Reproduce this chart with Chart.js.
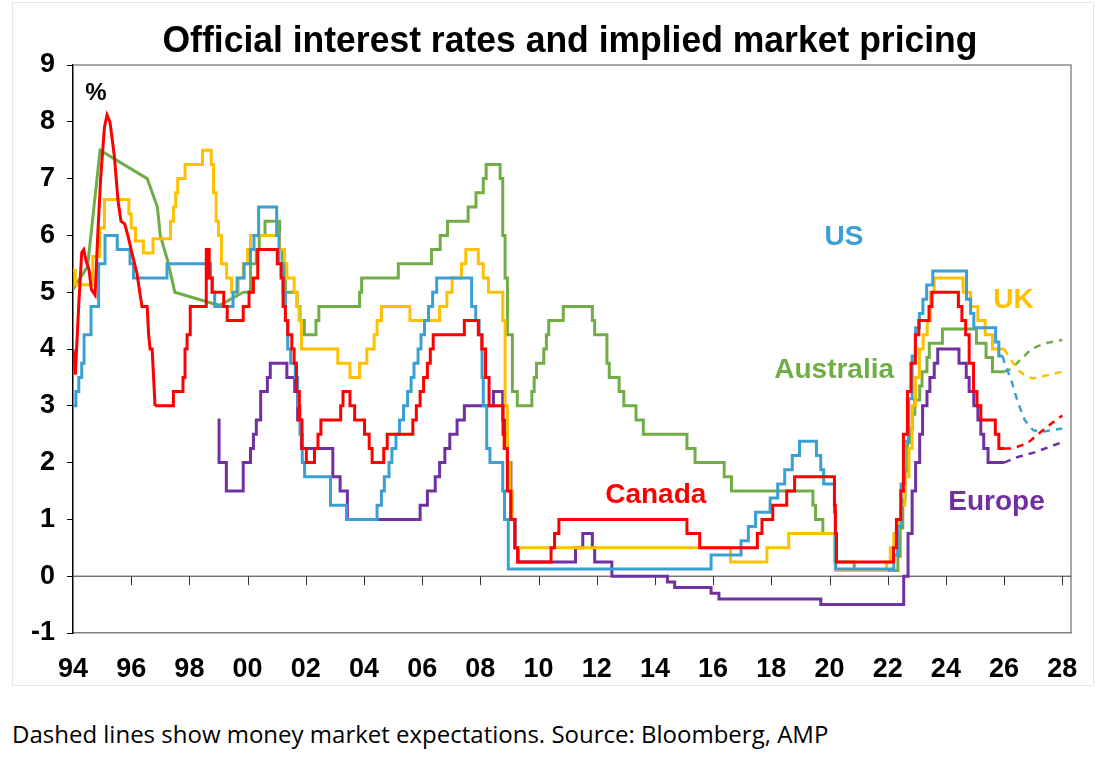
<!DOCTYPE html>
<html>
<head>
<meta charset="utf-8">
<script src="https://cdn.jsdelivr.net/npm/chart.js@4.4.0/dist/chart.umd.min.js"></script>
<style>
html, body { margin: 0; padding: 0; background: #fff; }
#frame { position: absolute; left: 12px; top: 2px; width: 1082px; height: 684px; border: 1px solid #e6e6e6; box-sizing: border-box; }
#wrap { position: absolute; left: 0; top: 0; width: 1107px; height: 690px; }
#note { position: absolute; left: 12px; top: 720px; font-family: 'Open Sans', 'Noto Sans', sans-serif; font-size: 24px; line-height: 1.2; color: #000; white-space: nowrap; }
</style>
</head>
<body>
<div id="frame"></div>
<div id="wrap"><canvas id="chart" width="1107" height="690"></canvas></div>
<div id="note">Dashed lines show money market expectations. Source: Bloomberg, AMP</div>
<script>
// official rates, [decimal year, % rate] at each change (held until next point)
var usRate = [[1994.0,3.0],[1994.1,3.25],[1994.2,3.5],[1994.3,3.75],[1994.38,4.25],[1994.62,4.75],[1994.88,5.5],[1995.1,6.0],
  [1995.52,5.75],[1995.96,5.5],[1996.08,5.25],[1997.23,5.5],[1998.73,5.25],[1998.79,5.0],[1998.87,4.75],[1999.5,5.0],
  [1999.64,5.25],[1999.88,5.5],[2000.1,5.75],[2000.22,6.0],[2000.38,6.5],[2001.0,6.0],[2001.08,5.5],[2001.22,5.0],
  [2001.3,4.5],[2001.38,4.0],[2001.48,3.75],[2001.64,3.5],[2001.72,3.0],[2001.8,2.5],[2001.88,2.0],[2001.96,1.75],
  [2002.85,1.25],[2003.4,1.0],[2004.45,1.25],[2004.6,1.5],[2004.7,1.75],[2004.86,2.0],[2004.96,2.25],[2005.1,2.5],
  [2005.22,2.75],[2005.36,3.0],[2005.5,3.25],[2005.62,3.5],[2005.72,3.75],[2005.86,4.0],[2005.96,4.25],[2006.08,4.5],
  [2006.22,4.75],[2006.36,5.0],[2006.5,5.25],[2007.7,4.75],[2007.84,4.5],[2007.96,4.25],[2008.06,3.5],[2008.1,3.0],
  [2008.22,2.25],[2008.33,2.0],[2008.77,1.5],[2008.83,1.0],[2008.96,0.125],[2015.93,0.375],[2016.96,0.625],
  [2017.21,0.875],[2017.46,1.125],[2017.96,1.375],[2018.22,1.625],[2018.46,1.875],[2018.72,2.125],[2018.97,2.375],
  [2019.55,2.125],[2019.7,1.875],[2019.8,1.625],[2020.17,1.125],[2020.21,0.125],[2022.21,0.375],[2022.34,0.875],
  [2022.46,1.625],[2022.57,2.375],[2022.72,3.125],[2022.84,3.875],[2022.96,4.375],[2023.09,4.625],[2023.21,4.875],
  [2023.34,5.125],[2023.55,5.375],[2024.71,4.875],[2024.85,4.625],[2024.96,4.375],[2025.71,4.125],[2025.82,3.875],
  [2025.95,3.875]];

var ukRate = [[1994.0,5.38],[1994.08,5.13],[1994.68,5.63],[1994.92,6.13],[1995.08,6.63],[1995.92,6.38],[1996.0,6.13],
  [1996.15,5.9],[1996.42,5.69],[1996.75,5.94],[1997.35,6.25],[1997.45,6.5],[1997.53,6.75],[1997.6,7.0],[1997.85,7.25],
  [1998.45,7.5],[1998.75,7.25],[1998.83,6.75],[1998.92,6.25],[1999.0,6.0],[1999.1,5.5],[1999.28,5.25],[1999.45,5.0],
  [1999.68,5.25],[1999.85,5.5],[2000.0,5.75],[2000.1,6.0],[2001.1,5.75],[2001.27,5.5],[2001.35,5.25],[2001.6,5.0],
  [2001.7,4.75],[2001.77,4.5],[2001.85,4.0],[2003.1,3.75],[2003.52,3.5],[2003.85,3.75],[2004.1,4.0],[2004.35,4.25],
  [2004.45,4.5],[2004.6,4.75],[2005.58,4.5],[2006.6,4.75],[2006.85,5.0],[2007.03,5.25],[2007.35,5.5],[2007.5,5.75],
  [2007.93,5.5],[2008.1,5.25],[2008.28,5.0],[2008.77,4.5],[2008.85,3.0],[2008.93,2.0],[2009.02,1.5],[2009.1,1.0],
  [2009.18,0.5],[2016.6,0.25],[2017.85,0.5],[2018.6,0.75],[2020.17,0.25],[2020.22,0.1],[2021.96,0.25],[2022.09,0.5],
  [2022.21,0.75],[2022.35,1.0],[2022.46,1.25],[2022.59,1.75],[2022.73,2.25],[2022.84,3.0],[2022.96,3.5],[2023.09,4.0],
  [2023.22,4.25],[2023.36,4.5],[2023.47,5.0],[2023.6,5.25],[2024.59,5.0],[2024.85,4.75],[2025.1,4.5],[2025.35,4.25],
  [2025.6,4.0],[2026.0,4.0]];

// early Australian series is plotted point to point
var ausEarly = [[1994.0,5.05],[1994.5,5.45],[1994.93,7.5],[1996.55,7.0],[1996.9,6.5],[1997.0,6.0],[1997.25,5.56],
  [1997.5,5.0],[1998.8,4.8],[1999.05,4.77],[1999.5,4.9],[1999.85,5.0]];
var ausRate = [[1999.85,5.0],[2000.1,5.5],[2000.3,5.75],[2000.4,6.0],[2000.6,6.25],[2001.1,5.75],[2001.2,5.5],
  [2001.3,5.0],[2001.7,4.75],[2001.8,4.5],[2001.95,4.25],[2002.35,4.5],[2002.45,4.75],[2003.85,5.0],[2003.92,5.25],
  [2005.18,5.5],[2006.32,5.75],[2006.62,6.0],[2006.87,6.25],[2007.58,6.5],[2007.85,6.75],[2008.1,7.0],[2008.2,7.25],
  [2008.68,7.0],[2008.77,6.0],[2008.85,5.25],[2008.93,4.25],[2009.1,3.25],[2009.27,3.0],[2009.77,3.25],[2009.85,3.5],
  [2009.93,3.75],[2010.18,4.0],[2010.27,4.25],[2010.35,4.5],[2010.85,4.75],[2011.85,4.5],[2011.93,4.25],[2012.35,3.75],
  [2012.43,3.5],[2012.77,3.25],[2012.93,3.0],[2013.35,2.75],[2013.6,2.5],[2015.1,2.25],[2015.38,2.0],[2016.38,1.75],
  [2016.63,1.5],[2019.43,1.25],[2019.52,1.0],[2019.77,0.75],[2020.17,0.5],[2020.22,0.25],[2020.85,0.1],[2022.35,0.35],
  [2022.43,0.85],[2022.52,1.35],[2022.6,1.85],[2022.68,2.35],[2022.77,2.6],[2022.85,2.85],[2022.93,3.1],[2023.1,3.35],
  [2023.18,3.6],[2023.35,3.85],[2023.43,4.1],[2023.88,4.35],[2025.05,4.1],[2025.38,3.85],[2025.6,3.6],[2026.0,3.6]];

var canEarly = [[1994.0,4.0],[1994.08,3.55],[1994.2,4.8],[1994.3,5.7],[1994.37,5.75],[1994.45,5.55],[1994.55,5.4],
  [1994.63,5.05],[1994.76,4.95],[1994.85,6.0],[1994.95,7.0],[1995.08,7.9],[1995.17,8.12],[1995.27,8.0],[1995.42,7.4],
  [1995.55,6.6],[1995.65,6.25],[1995.78,6.2],[1995.9,5.97],[1996.03,5.68],[1996.2,5.33],[1996.3,4.98],[1996.37,4.75],
  [1996.55,4.75],[1996.6,4.25],[1996.65,4.0],[1996.72,4.0],[1996.82,3.0]];
var canRate = [[1996.82,3.0],[1997.45,3.25],[1997.78,3.5],[1997.85,4.0],[1997.92,4.25],[1998.03,4.75],[1998.58,5.75],
  [1998.68,5.25],[1998.78,5.0],[1999.18,4.75],[1999.3,4.5],[1999.85,4.75],[2000.05,5.0],[2000.2,5.25],[2000.35,5.75],
  [2001.02,5.5],[2001.15,5.25],[2001.22,4.75],[2001.3,4.5],[2001.38,4.25],[2001.52,4.0],[2001.6,3.75],[2001.68,3.25],
  [2001.78,2.75],[2001.87,2.25],[2002.02,2.0],[2002.3,2.25],[2002.42,2.5],[2002.52,2.75],[2003.2,3.0],[2003.28,3.25],
  [2003.52,3.0],[2003.68,2.75],[2004.02,2.5],[2004.18,2.25],[2004.28,2.0],[2004.68,2.25],[2004.8,2.5],[2005.68,2.75],
  [2005.8,3.0],[2005.93,3.25],[2006.05,3.5],[2006.18,3.75],[2006.28,4.0],[2006.38,4.25],[2007.45,4.5],[2007.93,4.25],
  [2008.05,4.0],[2008.18,3.5],[2008.3,3.0],[2008.78,2.5],[2008.82,2.25],[2008.93,1.5],[2009.05,1.0],[2009.18,0.5],
  [2009.28,0.25],[2010.43,0.5],[2010.55,0.75],[2010.7,1.0],[2015.1,0.75],[2015.54,0.5],[2017.52,0.75],[2017.68,1.0],
  [2018.05,1.25],[2018.53,1.5],[2018.8,1.75],[2020.17,1.25],[2020.2,0.75],[2020.24,0.25],[2022.2,0.5],[2022.3,1.0],
  [2022.45,1.5],[2022.54,2.5],[2022.68,3.25],[2022.8,3.75],[2022.95,4.25],[2023.07,4.5],[2023.42,4.75],[2023.52,5.0],
  [2024.43,4.75],[2024.55,4.5],[2024.68,4.25],[2024.8,3.75],[2024.95,3.25],[2025.07,3.0],[2025.2,2.75],[2025.7,2.5],
  [2025.82,2.25],[2026.0,2.25]];

var eurRate = [[1998.97,2.75],[1999.02,2.0],[1999.27,1.5],[1999.85,2.0],[2000.1,2.25],[2000.2,2.5],[2000.3,2.75],
  [2000.45,3.25],[2000.68,3.5],[2000.78,3.75],[2001.35,3.5],[2001.62,3.25],[2001.72,2.75],[2001.85,2.25],[2002.93,1.75],
  [2003.18,1.5],[2003.43,1.0],[2005.93,1.25],[2006.18,1.5],[2006.45,1.75],[2006.6,2.0],[2006.78,2.25],[2006.95,2.5],
  [2007.2,2.75],[2007.45,3.0],[2008.45,3.25],[2008.77,2.75],[2008.85,2.25],[2008.93,2.0],[2009.05,1.0],[2009.2,0.5],
  [2009.3,0.25],[2011.27,0.5],[2011.52,0.75],[2011.85,0.5],[2011.93,0.25],[2012.52,0.0],[2014.43,-0.1],[2014.68,-0.2],
  [2015.93,-0.3],[2016.2,-0.4],[2019.7,-0.5],[2022.55,0.0],[2022.7,0.75],[2022.84,1.5],[2022.96,2.0],[2023.1,2.5],
  [2023.2,3.0],[2023.35,3.25],[2023.45,3.5],[2023.6,3.75],[2023.72,4.0],[2024.45,3.75],[2024.7,3.5],[2024.8,3.25],
  [2024.96,3.0],[2025.1,2.75],[2025.2,2.5],[2025.3,2.25],[2025.45,2.0],[2026.0,2.0]];

// money market expectations (dashed)
var usPricing  = [[2025.95,3.875],[2026.02,3.75],[2026.25,3.45],[2026.48,3.05],[2026.71,2.75],[2027.0,2.57],[2027.29,2.54],[2027.6,2.57],[2028.0,2.6]];
var ukPricing  = [[2026.0,4.0],[2026.25,3.8],[2026.48,3.63],[2026.75,3.52],[2027.0,3.48],[2027.5,3.54],[2028.0,3.6]];
var ausPricing = [[2026.0,3.6],[2026.25,3.65],[2026.48,3.77],[2026.94,4.0],[2027.4,4.1],[2028.0,4.16]];
var canPricing = [[2026.0,2.25],[2026.3,2.25],[2026.8,2.34],[2027.4,2.6],[2028.0,2.83]];
var eurPricing = [[2026.0,2.0],[2026.48,2.1],[2027.05,2.18],[2027.52,2.27],[2028.0,2.36]];

var seriesNames = ['US', 'UK', 'Australia', 'Canada', 'Europe'];
var yTicks = [-1, 0, 1, 2, 3, 4, 5, 6, 7, 8, 9];
var xTickStart = 1994, xTickEnd = 2028;
var chartTitle = 'Official interest rates and implied market pricing';

var colors = { US: '#3A9FD2', UK: '#FFC000', Australia: '#70AD47', Canada: '#FF0000', Europe: '#7030A0' };
// where the country names sit, in chart units
var nameAt = { US: [2020.5, 5.97], UK: [2026.32, 4.86], Australia: [2020.16, 3.63], Canada: [2014.03, 1.43], Europe: [2025.74, 1.3] };

var FONT = "'Liberation Sans', Arial, sans-serif";

function solid(name, data, stepped) {
  return { label: name, data: data, borderColor: colors[name], borderWidth: 3, stepped: stepped ? 'before' : false,
    pointRadius: 0, fill: false };
}
function dashed(name, data) {
  return { label: name + ' pricing', data: data, borderColor: colors[name], borderWidth: 2.5, borderDash: [7, 6],
    pointRadius: 0, fill: false };
}

// first dataset is drawn on top
var datasets = [
  solid('Canada', canRate, true), solid('Canada', canEarly, false), dashed('Canada', canPricing),
  solid('US', usRate, true), dashed('US', usPricing),
  solid('UK', ukRate, true), dashed('UK', ukPricing),
  solid('Australia', ausRate, true), solid('Australia', ausEarly, false), dashed('Australia', ausPricing),
  solid('Europe', eurRate, true), dashed('Europe', eurPricing)
];

var framePlugin = {
  id: 'frame',
  beforeDatasetsDraw: function(chart) {
    var c = chart.ctx, a = chart.chartArea, x = chart.scales.x, y = chart.scales.y;
    c.save();
    c.strokeStyle = '#8c8c8c';
    c.lineWidth = 1.5;
    c.beginPath();
    c.moveTo(a.left, a.top); c.lineTo(a.right, a.top); c.lineTo(a.right, a.bottom);
    c.stroke();
    // zero line with year ticks
    var y0 = y.getPixelForValue(0);
    c.strokeStyle = '#333';
    c.lineWidth = 1;
    c.beginPath();
    c.moveTo(a.left, y0); c.lineTo(a.right, y0);
    for (var t = xTickStart + 2; t <= xTickEnd; t += 2) {
      var px = Math.round(x.getPixelForValue(t)) + 0.5;
      c.moveTo(px, y0); c.lineTo(px, y0 + 9);
    }
    c.stroke();
    c.restore();
  },
  afterDatasetsDraw: function(chart) {
    var c = chart.ctx, x = chart.scales.x, y = chart.scales.y;
    c.save();
    c.textAlign = 'center';
    c.textBaseline = 'middle';
    c.font = 'bold 28px ' + FONT;
    seriesNames.forEach(function(n) {
      c.fillStyle = colors[n];
      c.fillText(n, x.getPixelForValue(nameAt[n][0]), y.getPixelForValue(nameAt[n][1]));
    });
    c.fillStyle = '#000';
    c.font = 'bold 24px ' + FONT;
    c.fillText('%', x.getPixelForValue(1994.79), y.getPixelForValue(8.5));

    // title in a narrow bold face: squeeze Arial-metric bold to the original width
    c.font = 'bold 37px ' + FONT;
    c.textBaseline = 'alphabetic';
    var w = c.measureText(chartTitle).width;
    var sx = 815 / w;
    c.translate(570, 52);
    c.scale(sx, 1);
    c.fillText(chartTitle, 0, 0);
    c.restore();
  }
};

new Chart(document.getElementById('chart'), {
  type: 'line',
  data: { datasets: datasets },
  options: {
    responsive: false,
    animation: false,
    devicePixelRatio: 1,
    layout: { padding: { left: 0, right: 36, top: 65, bottom: 0 } },
    plugins: {
      legend: { display: false },
      tooltip: { enabled: false },
      title: { display: false }
    },
    scales: {
      x: {
        type: 'linear', min: 1994, max: 2028.3,
        grid: { display: false },
        border: { color: '#808080', width: 1.5 },
        ticks: {
          stepSize: 2, includeBounds: false, autoSkip: false, maxRotation: 0, padding: 12, color: '#000',
          font: { family: FONT, size: 27, weight: 'bold' },
          callback: function(v) { return String(v % 100).padStart(2, '0'); }
        },
        afterFit: function(s) { s.height = 57; }
      },
      y: {
        min: yTicks[0], max: yTicks[yTicks.length - 1],
        grid: { drawOnChartArea: false, tickLength: 6, color: '#000' },
        border: { color: '#000', width: 1.5 },
        ticks: { stepSize: 1, padding: 12, color: '#000', font: { family: FONT, size: 27, weight: 'bold' } },
        afterFit: function(s) { s.width = 73; }
      }
    }
  },
  plugins: [framePlugin]
});
</script>
</body>
</html>
